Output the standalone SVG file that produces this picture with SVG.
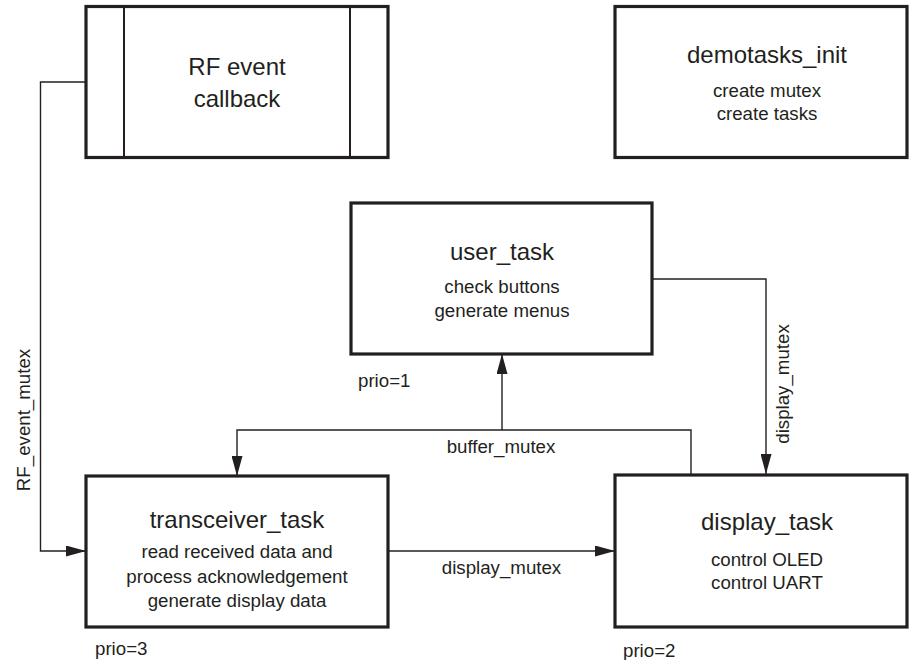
<svg xmlns="http://www.w3.org/2000/svg" width="909" height="660" viewBox="0 0 909 660">
  <style>
    .box { fill: #ffffff; stroke: #231f20; stroke-width: 3.2; }
    .bar { stroke: #231f20; stroke-width: 2; fill: none; }
    .wire { fill: none; stroke: #231f20; stroke-width: 1.4; }
    text { font-family: "Liberation Sans", Arial, sans-serif; fill: #231f20; }
    .title { font-size: 24px; text-anchor: middle; }
    .sub { font-size: 18.7px; text-anchor: middle; }
    .lbl { font-size: 18.7px; }
    .mid { text-anchor: middle; }
  </style>
  <defs>
    <marker id="arrow" markerUnits="userSpaceOnUse" markerWidth="20" markerHeight="11" refX="20" refY="5.5" orient="auto">
      <path d="M0,0 L20,5.5 L0,11 Z" fill="#231f20"/>
    </marker>
  </defs>

  <rect width="909" height="660" fill="#ffffff"/>

  <!-- connectors -->
  <g id="connectors">
    <path class="wire" d="M86,82 H40.5 V551 H86" marker-end="url(#arrow)"/>
    <path class="wire" d="M691,475 V430 H237 V476" marker-end="url(#arrow)"/>
    <path class="wire" d="M502,430 V354" marker-end="url(#arrow)"/>
    <path class="wire" d="M388,551 H615" marker-end="url(#arrow)"/>
    <path class="wire" d="M652,279 H766 V474" marker-end="url(#arrow)"/>
    <text class="lbl" transform="translate(30,420) rotate(-90)" text-anchor="middle">RF_event_mutex</text>
    <text class="lbl mid" x="501" y="453">buffer_mutex</text>
    <text class="lbl mid" x="501.5" y="574">display_mutex</text>
    <text class="lbl" transform="translate(789,384) rotate(-90)" text-anchor="middle">display_mutex</text>
  </g>

  <!-- RF event callback (predefined process) -->
  <g id="rf_event_callback">
    <rect class="box" x="86" y="6.5" width="302" height="151"/>
    <line class="bar" x1="124" y1="6.5" x2="124" y2="157.5"/>
    <line class="bar" x1="350" y1="6.5" x2="350" y2="157.5"/>
    <text class="title" x="237" y="75">RF event</text>
    <text class="title" x="237" y="107">callback</text>
  </g>

  <g id="demotasks_init">
    <rect class="box" x="615" y="6.5" width="292" height="151"/>
    <text class="title" x="767" y="63">demotasks_init</text>
    <text class="sub" x="767" y="97">create mutex</text>
    <text class="sub" x="767" y="120">create tasks</text>
  </g>

  <g id="user_task">
    <rect class="box" x="351" y="203" width="301" height="151"/>
    <text class="title" x="502" y="260">user_task</text>
    <text class="sub" x="502" y="293">check buttons</text>
    <text class="sub" x="502" y="317">generate menus</text>
    <text class="lbl" x="358" y="387">prio=1</text>
  </g>

  <g id="transceiver_task">
    <rect class="box" x="86" y="476" width="302" height="151"/>
    <text class="title" x="237" y="528">transceiver_task</text>
    <text class="sub" x="237" y="558">read received data and</text>
    <text class="sub" x="237" y="583">process acknowledgement</text>
    <text class="sub" x="237" y="607">generate display data</text>
    <text class="lbl" x="95" y="655">prio=3</text>
  </g>

  <g id="display_task">
    <rect class="box" x="615" y="475" width="292" height="152"/>
    <text class="title" x="767" y="530">display_task</text>
    <text class="sub" x="767" y="566">control OLED</text>
    <text class="sub" x="767" y="589">control UART</text>
    <text class="lbl" x="623" y="657">prio=2</text>
  </g>
</svg>
